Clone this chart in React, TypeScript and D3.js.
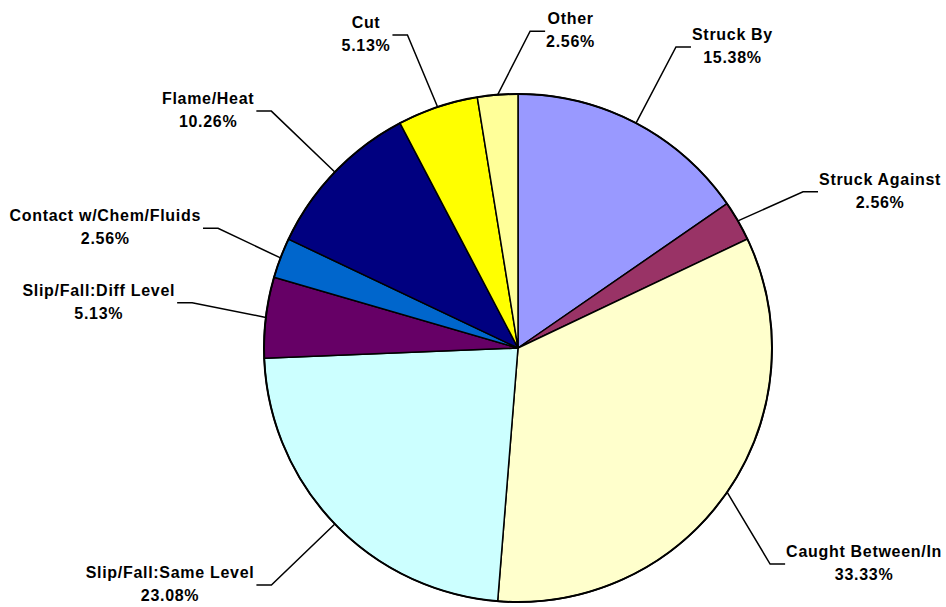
import { useEffect, useRef } from 'react';
import * as d3 from 'd3';

const categories = [
  'Struck By',
  'Struck Against',
  'Caught Between/In',
  'Slip/Fall:Same Level',
  'Slip/Fall:Diff Level',
  'Contact w/Chem/Fluids',
  'Flame/Heat',
  'Cut',
  'Other',
];
const percents = [15.38, 2.56, 33.33, 23.08, 5.13, 2.56, 10.26, 5.13, 2.56];
const colors = ['#9999FF', '#993366', '#FFFFCC', '#CCFFFF', '#660066', '#0066CC', '#000080', '#FFFF00', '#FFFF99'];

// where the leader elbows sit: angle nudge (deg) and distance from centre
const elbowShift = [0, 1.3, 6, 0, 1, 1, 0, -1, 6.8];
const elbowRadius = [340, 325, 332, 342, 329, 323, 342, 332, 317];

function App() {
  const ref = useRef<HTMLDivElement>(null);

  const drawChart = () => {
    const width = 946,
      height = 607;
    const cx = 518,
      cy = 348,
      r = 254;

    d3.select(ref.current).selectAll('*').remove();

    const svg = d3
      .select(ref.current)
      .append('svg')
      .attr('width', width)
      .attr('height', height)
      .style('display', 'block')
      .style('background', '#fff');

    const g = svg.append('g').attr('transform', `translate(${cx}, ${cy})`);

    const data = categories.map((c, i) => ({ name: c, value: percents[i], i }));

    const pie = d3
      .pie<any>()
      .sort(null)
      .value((d) => d.value)
      .startAngle(0)
      .endAngle(Math.PI * 2);
    const arcs = pie(data);

    const arc = d3.arc<any>().innerRadius(0).outerRadius(r);

    g.selectAll('path.slice')
      .data(arcs)
      .enter()
      .append('path')
      .attr('class', 'slice')
      .attr('d', arc)
      .attr('fill', (d) => colors[d.data.i])
      .attr('stroke', '#000')
      .attr('stroke-width', 1.5)
      .attr('stroke-linejoin', 'round');

    // outer rim a little heavier
    g.append('circle').attr('r', r).attr('fill', 'none').attr('stroke', '#000').attr('stroke-width', 2);

    const labels = g.append('g');

    arcs.forEach((a) => {
      const i = a.data.i;
      const mid = (a.startAngle + a.endAngle) / 2;
      const sx = Math.sin(mid) * r,
        sy = -Math.cos(mid) * r;
      const ea = mid + (elbowShift[i] * Math.PI) / 180;
      const ex = Math.sin(ea) * elbowRadius[i],
        ey = -Math.cos(ea) * elbowRadius[i];
      const right = Math.sin(ea) > 0;
      const hx = ex + (right ? 15 : -15);

      labels
        .append('path')
        .attr('d', `M${sx},${sy}L${ex},${ey}L${hx},${ey}`)
        .attr('fill', 'none')
        .attr('stroke', '#000')
        .attr('stroke-width', 1.5);

      const t = labels
        .append('g')
        .style('font-family', '"Liberation Sans", Arial, sans-serif')
        .style('font-size', '16px')
        .style('font-weight', 'bold')
        .style('letter-spacing', '0.7px')
        .attr('fill', '#000');

      t.append('text').attr('text-anchor', 'middle').attr('y', -7).text(a.data.name);
      t.append('text')
        .attr('text-anchor', 'middle')
        .attr('y', 16)
        .text(a.data.value.toFixed(2) + '%');

      const bb = (t.node() as SVGGElement).getBBox();
      const tx = right ? hx + 1 - bb.x : hx - 2 - (bb.x + bb.width);
      t.attr('transform', `translate(${tx}, ${ey})`);
    });
  };

  useEffect(() => {
    document.body.style.margin = '0';
    drawChart();
  }, []);

  return <div ref={ref}></div>;
}

export default App;
